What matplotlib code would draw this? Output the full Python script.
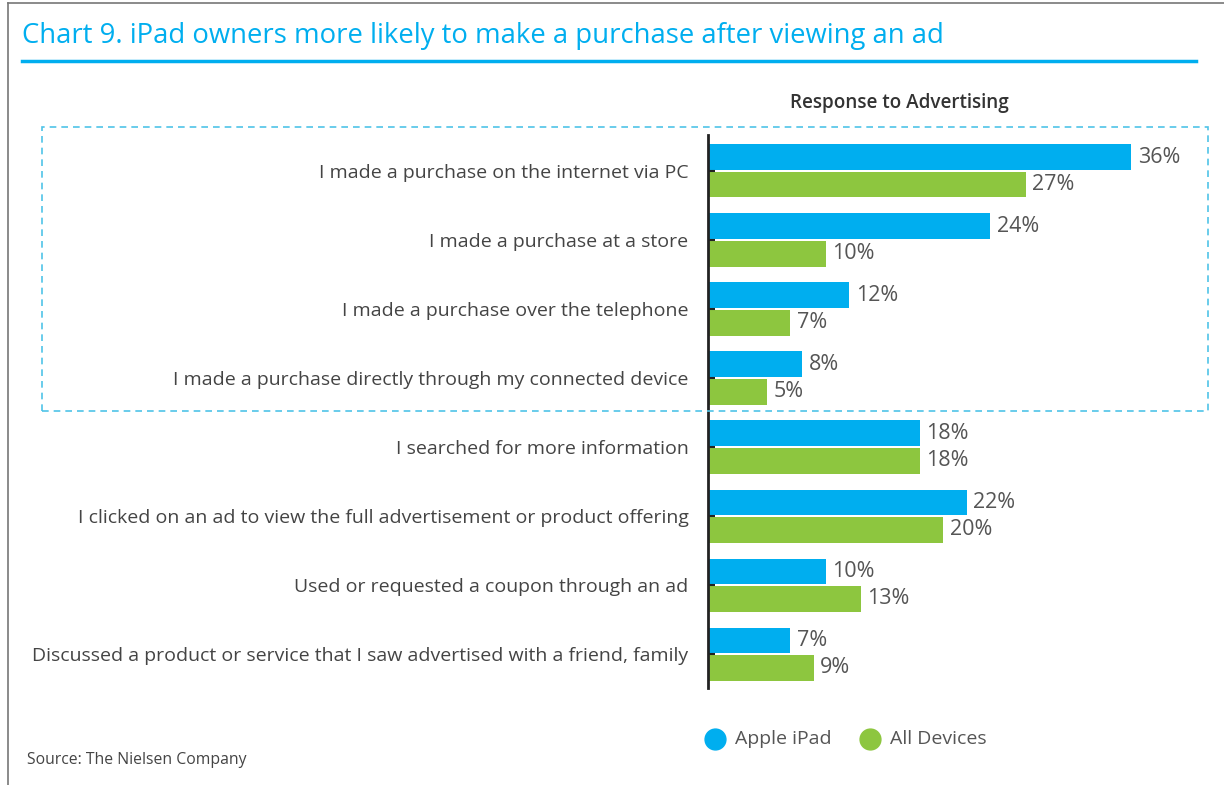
import matplotlib.pyplot as plt
import numpy as np
from matplotlib.patches import Rectangle
from matplotlib.lines import Line2D

categories = ['I made a purchase on the internet via PC',
              'I made a purchase at a store',
              'I made a purchase over the telephone',
              'I made a purchase directly through my connected device',
              'I searched for more information',
              'I clicked on an ad to view the full advertisement or product offering',
              'Used or requested a coupon through an ad',
              'Discussed a product or service that I saw advertised with a friend, family']
ipad = [36, 24, 12, 8, 18, 22, 10, 7]
all_devices = [27, 10, 7, 5, 18, 20, 13, 9]
series_names = ['Apple iPad', 'All Devices']

blue = '#00AEEF'
green = '#8DC63F'
grey = '#555555'
plt.rcParams['font.family'] = ['Open Sans', 'DejaVu Sans']

W, H = 1224, 785
fig = plt.figure(figsize=(W / 100, H / 100), dpi=100)

def px(x, y):
    return x / W, 1 - y / H

ax = fig.add_axes([708 / W, 1 - 688 / H, 500 / W, 553 / H])
y = np.arange(len(categories))
ax.barh(y - 0.2, ipad, height=0.37, color=blue)
ax.barh(y + 0.2, all_devices, height=0.37, color=green)
for i in range(len(categories)):
    ax.text(ipad[i] + 0.55, y[i] - 0.2, f'{ipad[i]}%', va='center', ha='left', fontsize=15.5, color=grey)
    ax.text(all_devices[i] + 0.55, y[i] + 0.2, f'{all_devices[i]}%', va='center', ha='left', fontsize=15.5, color=grey)

ax.set_xlim(0, 500 / 11.76)
ax.set_ylim(7.49, -0.52)
ax.set_yticks(y)
ax.set_yticklabels(categories, fontsize=14, color='#444444')
ax.tick_params(axis='y', direction='in', length=5, width=1.5, pad=14, color='#222222')
ax.set_xticks([])
for s in ['top', 'right', 'bottom']:
    ax.spines[s].set_visible(False)
ax.spines['left'].set_linewidth(2)
ax.spines['left'].set_color('#222222')

# title and rule
fig.text(*px(22, 36), 'Chart 9. iPad owners more likely to make a purchase after viewing an ad',
         fontsize=19.8, color=blue, va='center', ha='left')
fig.add_artist(Line2D([22 / W, 1196 / W], [1 - 61 / H] * 2, color=blue, lw=2.5))
# page frame
fig.add_artist(Line2D([8 / W, 8 / W], [0, 1 - 3 / H], color='#777777', lw=1.2))
fig.add_artist(Line2D([8 / W, 1], [1 - 3 / H] * 2, color='#777777', lw=1.2))

fig.text(*px(899, 103), 'Response to Advertising', fontsize=13.6, color='#333333',
         ha='center', va='center', fontweight='semibold')

# dashed highlight box
fig.add_artist(Rectangle(px(42, 411), (1208 - 42) / W, (411 - 127) / H, fill=False,
                         edgecolor='#4FC3E8', lw=1.2, linestyle=(0, (4, 3))))

# legend
for cx, tx, col, name in [(715, 735, blue, series_names[0]), (870, 890, green, series_names[1])]:
    fig.add_artist(Line2D([cx / W], [1 - 739 / H], marker='o', markersize=15, color=col, lw=0))
    fig.text(*px(tx, 739), name, fontsize=14, color=grey, va='center', ha='left')

fig.text(*px(27, 760), 'Source: The Nielsen Company', fontsize=11.3, color='#444444', va='center', ha='left')

fig.savefig('out.png', dpi=100)
